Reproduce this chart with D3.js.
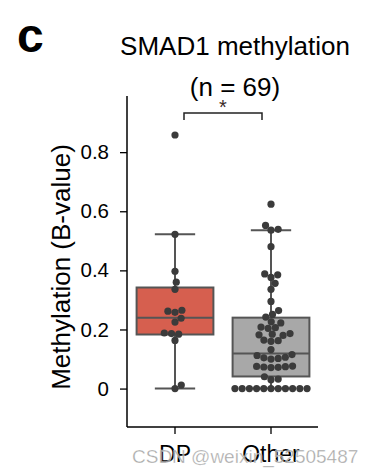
<!DOCTYPE html>
<html><head><meta charset="utf-8">
<script src="https://cdn.jsdelivr.net/npm/d3@7"></script>
<style>body{margin:0;background:#fff}svg{display:block}text{font-family:Arial,"Liberation Sans",sans-serif}</style>
</head><body><svg id="c" width="378" height="475"></svg>
<script>
const categories = ["DP", "Other"];
const boxColors = ["#d65f4f", "#a8a8a8"];
// box stats: [whiskerLow, q1, median, q3, whiskerHigh]
const boxStats = [
  [0.0, 0.183, 0.24, 0.342, 0.522],
  [0.0, 0.041, 0.119, 0.24, 0.536]
];
const dpValues = [0.858, 0.522, 0.397, 0.36, 0.336, 0.265, 0.262, 0.258, 0.238, 0.225, 0.188, 0.186, 0.184, 0.163, 0.012, 0.0];
const otherValues = [0.624, 0.552, 0.539, 0.536, 0.48, 0.388, 0.385, 0.376, 0.356, 0.336, 0.295, 0.264, 0.251, 0.242, 0.226, 0.222, 0.208, 0.206, 0.204, 0.186, 0.184, 0.182, 0.18, 0.164, 0.162, 0.16, 0.132, 0.115, 0.112, 0.106, 0.104, 0.102, 0.1, 0.076, 0.075, 0.074, 0.073, 0.072, 0.071, 0.04, 0.032, 0.03, 0, 0, 0, 0, 0, 0, 0, 0, 0, 0, 0];
const yTicks = [0, 0.2, 0.4, 0.6, 0.8];
const yTickLabels = ["0", "0.2", "0.4", "0.6", "0.8"];

const svg = d3.select("#c");
const x = d3.scaleBand().domain(categories).range([127, 319]);
const y = d3.scaleLinear().domain([-0.13, 0.99]).range([427, 96]);
const bw = x.bandwidth();
const boxW = bw * 0.8, capW = bw * 0.42;
const edge = "#555555";

// axes
const yAxis = d3.axisLeft(y).tickValues(yTicks).tickFormat((d, i) => yTickLabels[i]).tickSize(7).tickPadding(11);
const gy = svg.append("g").attr("transform", "translate(127,0)").call(yAxis);
gy.select(".domain").attr("d", `M0,96V427`).attr("stroke", "#000").attr("stroke-width", 1.5);
gy.selectAll(".tick line").attr("stroke", "#000").attr("stroke-width", 1.3);
gy.selectAll(".tick text").attr("font-size", 20.5).attr("fill", "#000").attr("font-family", "Arial, Liberation Sans, sans-serif");

const xAxis = d3.axisBottom(x).tickSize(7).tickPadding(12);
const gx = svg.append("g").attr("transform", "translate(0,427)").call(xAxis);
gx.select(".domain").attr("d", "M127,0H318").attr("stroke", "#000").attr("stroke-width", 1.5);
gx.selectAll(".tick line").attr("stroke", "#000").attr("stroke-width", 1.3);
gx.selectAll(".tick text").attr("font-size", 23).attr("fill", "#000").attr("font-family", "Arial, Liberation Sans, sans-serif");

// boxes
categories.forEach((c, i) => {
  const s = boxStats[i];
  const cx = x(c) + bw / 2;
  const g = svg.append("g");
  g.append("line").attr("x1", cx).attr("x2", cx).attr("y1", y(s[3])).attr("y2", y(s[4])).attr("stroke", edge).attr("stroke-width", 2);
  g.append("line").attr("x1", cx).attr("x2", cx).attr("y1", y(s[1])).attr("y2", y(s[0])).attr("stroke", edge).attr("stroke-width", 2);
  [s[0], s[4]].forEach(v => g.append("line").attr("x1", cx - capW / 2).attr("x2", cx + capW / 2).attr("y1", y(v)).attr("y2", y(v)).attr("stroke", edge).attr("stroke-width", 2));
  g.append("rect").attr("x", cx - boxW / 2).attr("width", boxW).attr("y", y(s[3])).attr("height", y(s[1]) - y(s[3]))
    .attr("fill", boxColors[i]).attr("stroke", edge).attr("stroke-width", 2);
  g.append("line").attr("x1", cx - boxW / 2).attr("x2", cx + boxW / 2).attr("y1", y(s[2])).attr("y2", y(s[2])).attr("stroke", edge).attr("stroke-width", 2);
});

// swarm
const r = 3.6;
function swarm(values, cx) {
  const pts = values.map(v => ({ v, py: y(v) })).sort((a, b) => b.py - a.py);
  const placed = [];
  const d = 2 * r;
  pts.forEach(p => {
    const cands = [0];
    placed.forEach(q => {
      const dy = p.py - q.py;
      if (Math.abs(dy) < d) {
        const dx = Math.sqrt(d * d - dy * dy);
        cands.push(q.off + dx + 0.01, q.off - dx - 0.01);
      }
    });
    cands.sort((a, b) => Math.abs(a) - Math.abs(b));
    for (const o of cands) {
      const ok = placed.every(q => (q.off - o) ** 2 + (q.py - p.py) ** 2 >= d * d - 0.01);
      if (ok) { p.off = o; break; }
    }
    placed.push(p);
  });
  return placed.map(p => ({ x: cx + p.off, y: p.py }));
}
[dpValues, otherValues].forEach((vals, i) => {
  const cx = x(categories[i]) + bw / 2;
  svg.append("g").selectAll("circle").data(swarm(vals, cx)).join("circle")
    .attr("cx", d => d.x).attr("cy", d => d.y).attr("r", r).attr("fill", "#3b3b3b");
});

// significance bracket
const x1 = x("DP") + bw / 2 + 9, x2 = x("Other") + bw / 2 - 9;
svg.append("path").attr("d", `M${x1},120V113H${x2}V120`).attr("fill", "none").attr("stroke", "#222").attr("stroke-width", 1.5);
svg.append("text").attr("x", (x1 + x2) / 2).attr("y", 114).attr("text-anchor", "middle").attr("font-size", 20).attr("fill", "#3a2a28").text("*");

// titles
svg.append("text").attr("x", 235).attr("y", 55).attr("text-anchor", "middle").attr("font-size", 26).attr("fill", "#000").text("SMAD1 methylation");
svg.append("text").attr("x", 235).attr("y", 96).attr("text-anchor", "middle").attr("font-size", 26).attr("fill", "#000").text("(n = 69)");
svg.append("text").attr("x", 17).attr("y", 52).attr("font-size", 48).attr("font-weight", "bold").attr("fill", "#000").text("c");
svg.append("text").attr("transform", "translate(70,267) rotate(-90)").attr("text-anchor", "middle").attr("font-size", 26).attr("fill", "#000").text("Methylation (B-value)");

// watermark
svg.append("text").attr("x", 132).attr("y", 463).attr("font-size", 19).attr("fill", "#9a9a9a").attr("fill-opacity", 0.85).attr("stroke", "#fff").attr("stroke-width", 0.5).attr("stroke-opacity", 0.6).text("CSDN @weixin_52505487");
</script></body></html>
